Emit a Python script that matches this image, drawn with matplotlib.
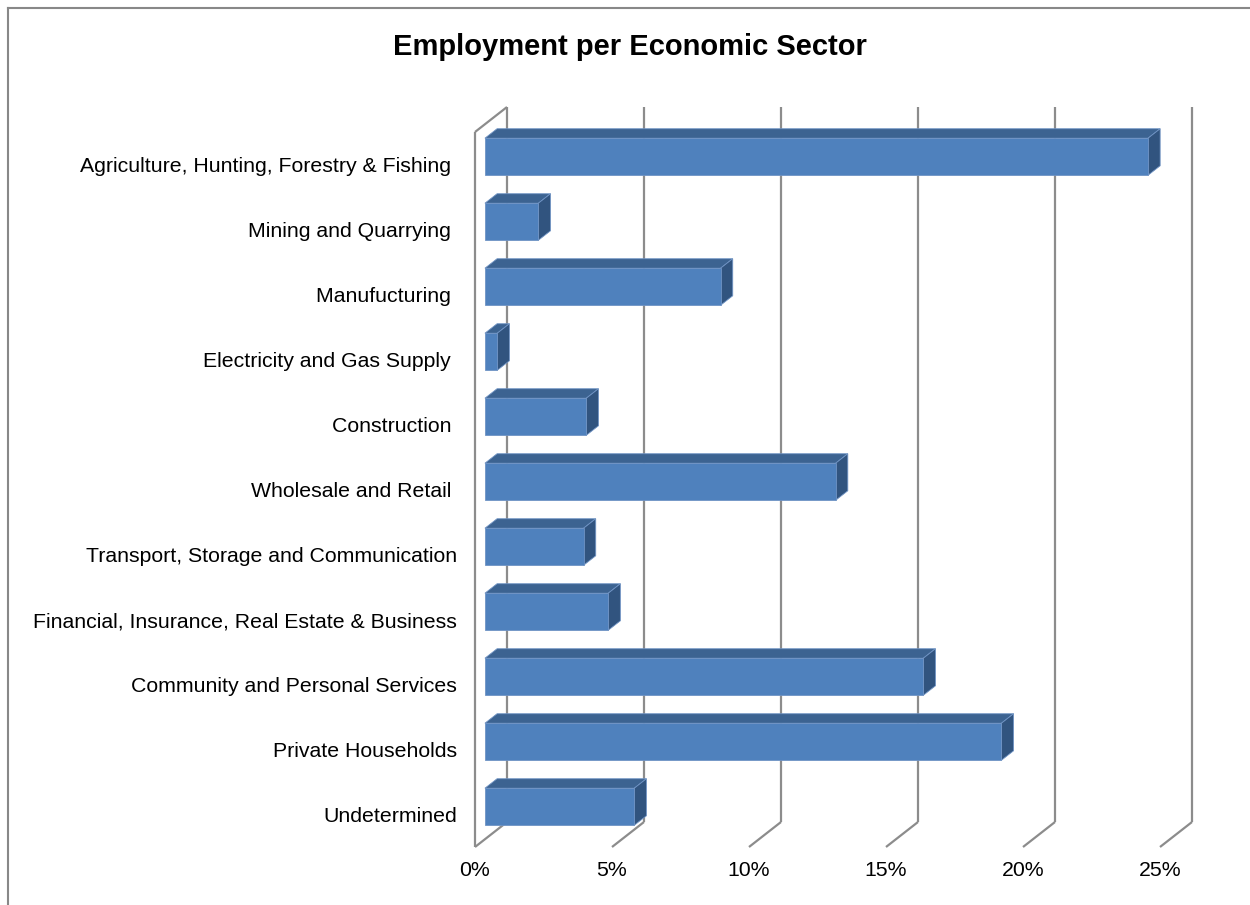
import matplotlib
matplotlib.use("Agg")
import matplotlib.pyplot as plt
from matplotlib.patches import Polygon
from matplotlib.lines import Line2D

plt.rcParams["font.family"] = ["Liberation Sans", "DejaVu Sans"]

sectors = [
    "Agriculture, Hunting, Forestry & Fishing ",
    "Mining and Quarrying ",
    "Manufucturing ",
    "Electricity and Gas Supply ",
    "Construction ",
    "Wholesale and Retail ",
    "Transport, Storage and Communication",
    "Financial, Insurance, Real Estate & Business",
    "Community and Personal Services",
    "Private Households",
    "Undetermined",
]
shares = [24.2, 1.95, 8.6, 0.45, 3.7, 12.8, 3.6, 4.5, 16.0, 18.85, 5.45]
ticks = [0, 5, 10, 15, 20, 25]
tick_labels = ["0%", "5%", "10%", "15%", "20%", "25%"]

FRONT = "#4F81BD"
TOP = "#3C6391"
SIDE = "#31547F"
GRID = "#8C8C8C"

W, H = 1250, 905
fig = plt.figure(figsize=(W / 100, H / 100), dpi=100)
fig.patch.set_facecolor("white")

# axes covers the front plane of the 3d box
left_px, right_px, top_px, bot_px = 475, 1160, 132, 847
ax = fig.add_axes([left_px / W, 1 - bot_px / H,
                   (right_px - left_px) / W, (bot_px - top_px) / H])
n = len(sectors)
ax.set_xlim(0, 25)
ax.set_ylim(n - 0.5, -0.5)
for s in ax.spines.values():
    s.set_visible(False)

# depth vector in data units (32 px right, 25 px up for full depth)
px_x = (right_px - left_px) / 25.0
px_y = (bot_px - top_px) / n
DX = 32 / px_x
DY = -25 / px_y


def pt(x, y, d):
    return (x + d * DX, y + d * DY)


def line(p, q, **kw):
    ax.add_line(Line2D([p[0], q[0]], [p[1], q[1]], color=GRID, lw=1.6,
                       clip_on=False, solid_capstyle="butt", zorder=1, **kw))


y0, y1 = -0.5, n - 0.5
# back wall gridlines and floor diagonals
for t in ticks:
    line(pt(t, y0, 1), pt(t, y1, 1))
    line(pt(t, y1, 1), pt(t, y1, 0))
# side wall outline
line(pt(0, y0, 0), pt(0, y1, 0))
line(pt(0, y0, 0), pt(0, y0, 1))

# bars sit in the middle of the depth
d0, d1 = 0.31, 0.69
half = 0.285
for i, v in enumerate(shares):
    yt, yb = i - half, i + half
    front = [pt(0, yt, d0), pt(v, yt, d0), pt(v, yb, d0), pt(0, yb, d0)]
    top = [pt(0, yt, d0), pt(v, yt, d0), pt(v, yt, d1), pt(0, yt, d1)]
    side = [pt(v, yt, d0), pt(v, yt, d1), pt(v, yb, d1), pt(v, yb, d0)]
    for poly, col in ((top, TOP), (side, SIDE), (front, FRONT)):
        ax.add_patch(Polygon(poly, closed=True, facecolor=col,
                             edgecolor="#6F93C4", lw=0.6, clip_on=False,
                             zorder=3))

ax.set_yticks(range(n))
ax.set_yticklabels(sectors, fontsize=15.3)
ax.set_xticks(ticks)
ax.set_xticklabels(tick_labels, fontsize=15.3)
ax.tick_params(axis="y", length=0, pad=13)
ax.tick_params(axis="x", length=0, pad=10)
ax.set_facecolor("none")

fig.text(630 / W, 1 - 47 / H, "Employment per Economic Sector",
         ha="center", va="center", fontsize=21, fontweight="bold")

# chart frame (top and left edges)
fig.add_artist(Line2D([8 / W, 8 / W], [0, 1 - 8 / H], color="#888888",
                      lw=1.5, transform=fig.transFigure))
fig.add_artist(Line2D([8 / W, 1], [1 - 8 / H, 1 - 8 / H], color="#888888",
                      lw=1.5, transform=fig.transFigure))

fig.savefig("out.png", dpi=100)
